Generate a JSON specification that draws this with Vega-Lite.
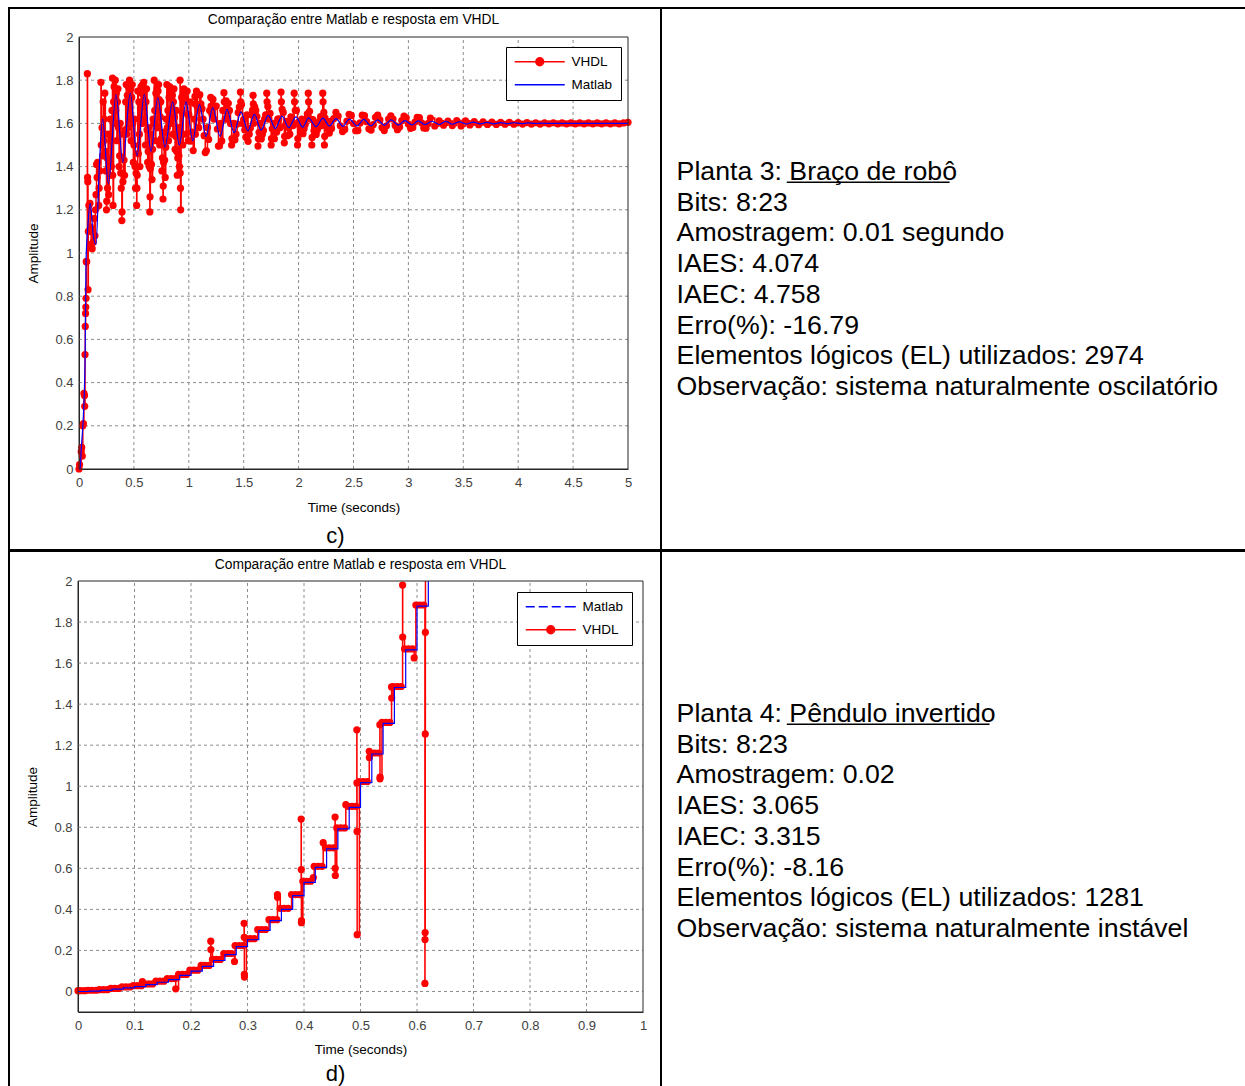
{
"$schema": "https://vega.github.io/schema/vega-lite/v6.json",
"background": "white",
"padding": {"left": 8, "top": 7, "right": 0, "bottom": 0},
"config": {"view": {"stroke": "black", "strokeWidth": 2}, "font": "Liberation Sans"},
"datasets": {
"vc": [{"t":0,"v":0},{"t":0.005,"v":0.02},{"t":0.02,"v":0.08},{"t":0.025,"v":0.1},{"t":0.03,"v":0.06},{"t":0.035,"v":0.2},{"t":0.04,"v":0.21},{"t":0.045,"v":0.35},{"t":0.05,"v":0.34},{"t":0.052,"v":0.29},{"t":0.055,"v":0.53},{"t":0.057,"v":0.66},{"t":0.06,"v":0.72},{"t":0.062,"v":0.75},{"t":0.064,"v":0.79},{"t":0.066,"v":0.96},{"t":0.07,"v":0.96},{"t":0.076,"v":1.83},{"t":0.078,"v":1.35},{"t":0.08,"v":1.33},{"t":0.082,"v":0.83},{"t":0.085,"v":1.1},{"t":0.09,"v":1.22},{"t":0.1,"v":1.23},{"t":0.105,"v":1.12},{"t":0.11,"v":1.04},{"t":0.12,"v":1.02},{"t":0.125,"v":1.1},{"t":0.13,"v":1.05},{"t":0.14,"v":1.16},{"t":0.145,"v":1.08},{"t":0.15,"v":1.2},{"t":0.155,"v":1.27},{"t":0.16,"v":1.41},{"t":0.165,"v":1.35},{"t":0.17,"v":1.42},{"t":0.18,"v":1.22},{"t":0.183,"v":1.3},{"t":0.19,"v":1.38},{"t":0.2,"v":1.79},{"t":0.203,"v":1.5},{"t":0.21,"v":1.58},{"t":0.22,"v":1.7},{"t":0.23,"v":1.62},{"t":0.24,"v":1.47},{"t":0.25,"v":1.2},{"t":0.253,"v":1.24},{"t":0.26,"v":1.3},{"t":0.27,"v":1.27},{"t":0.28,"v":1.36},{"t":0.29,"v":1.52},{"t":0.3,"v":1.66},{"t":0.305,"v":1.81},{"t":0.307,"v":1.36},{"t":0.31,"v":1.22},{"t":0.315,"v":1.7},{"t":0.32,"v":1.77},{"t":0.33,"v":1.8},{"t":0.34,"v":1.74},{"t":0.35,"v":1.7},{"t":0.36,"v":1.58},{"t":0.37,"v":1.45},{"t":0.38,"v":1.37},{"t":0.39,"v":1.15},{"t":0.392,"v":1.19},{"t":0.395,"v":1.37},{"t":0.4,"v":1.33},{"t":0.41,"v":1.43},{"t":0.42,"v":1.57},{"t":0.43,"v":1.78},{"t":0.435,"v":1.55},{"t":0.44,"v":1.73},{"t":0.45,"v":1.77},{"t":0.46,"v":1.8},{"t":0.47,"v":1.76},{"t":0.48,"v":1.72},{"t":0.49,"v":1.6},{"t":0.5,"v":1.5},{"t":0.51,"v":1.4},{"t":0.52,"v":1.37},{"t":0.525,"v":1.22},{"t":0.527,"v":1.3},{"t":0.53,"v":1.36},{"t":0.535,"v":1.75},{"t":0.54,"v":1.46},{"t":0.55,"v":1.55},{"t":0.56,"v":1.67},{"t":0.57,"v":1.74},{"t":0.58,"v":1.78},{"t":0.59,"v":1.79},{"t":0.6,"v":1.76},{"t":0.61,"v":1.7},{"t":0.62,"v":1.57},{"t":0.63,"v":1.47},{"t":0.64,"v":1.4},{"t":0.645,"v":1.19},{"t":0.647,"v":1.26},{"t":0.65,"v":1.39},{"t":0.66,"v":1.41},{"t":0.67,"v":1.48},{"t":0.68,"v":1.6},{"t":0.685,"v":1.8},{"t":0.69,"v":1.66},{"t":0.7,"v":1.74},{"t":0.71,"v":1.76},{"t":0.72,"v":1.75},{"t":0.73,"v":1.71},{"t":0.74,"v":1.63},{"t":0.75,"v":1.53},{"t":0.76,"v":1.44},{"t":0.765,"v":1.25},{"t":0.767,"v":1.31},{"t":0.77,"v":1.42},{"t":0.78,"v":1.43},{"t":0.79,"v":1.49},{"t":0.8,"v":1.78},{"t":0.805,"v":1.58},{"t":0.81,"v":1.66},{"t":0.82,"v":1.72},{"t":0.83,"v":1.74},{"t":0.84,"v":1.75},{"t":0.85,"v":1.73},{"t":0.86,"v":1.7},{"t":0.87,"v":1.63},{"t":0.88,"v":1.54},{"t":0.89,"v":1.47},{"t":0.9,"v":1.44},{"t":0.91,"v":1.45},{"t":0.92,"v":1.8},{"t":0.922,"v":1.37},{"t":0.924,"v":1.3},{"t":0.926,"v":1.2},{"t":0.93,"v":1.55},{"t":0.94,"v":1.65},{"t":0.95,"v":1.71},{"t":0.96,"v":1.74},{"t":0.965,"v":1.74},{"t":0.97,"v":1.72},{"t":0.98,"v":1.7},{"t":0.99,"v":1.64},
{"t":0.215,"v":1.45},{"t":0.225,"v":1.52},{"t":0.235,"v":1.74},{"t":0.245,"v":1.38},{"t":0.255,"v":1.44},{"t":0.265,"v":1.55},{"t":0.275,"v":1.42},{"t":0.285,"v":1.62},{"t":0.295,"v":1.4},{"t":0.325,"v":1.6},{"t":0.335,"v":1.66},{"t":0.345,"v":1.52},{"t":0.355,"v":1.76},{"t":0.365,"v":1.4},{"t":0.375,"v":1.6},{"t":0.385,"v":1.3},{"t":0.405,"v":1.55},{"t":0.415,"v":1.36},{"t":0.425,"v":1.7},{"t":0.445,"v":1.58},{"t":0.455,"v":1.66},{"t":0.465,"v":1.62},{"t":0.475,"v":1.52},{"t":0.485,"v":1.78},{"t":0.495,"v":1.42},{"t":0.505,"v":1.62},{"t":0.515,"v":1.3},{"t":0.545,"v":1.7},{"t":0.555,"v":1.4},{"t":0.565,"v":1.77},{"t":0.575,"v":1.6},{"t":0.585,"v":1.68},{"t":0.595,"v":1.62},{"t":0.605,"v":1.5},{"t":0.615,"v":1.76},{"t":0.625,"v":1.42},{"t":0.635,"v":1.58},{"t":0.655,"v":1.55},{"t":0.665,"v":1.34},{"t":0.675,"v":1.62},{"t":0.695,"v":1.52},{"t":0.705,"v":1.66},{"t":0.715,"v":1.58},{"t":0.725,"v":1.78},{"t":0.735,"v":1.5},{"t":0.745,"v":1.7},{"t":0.755,"v":1.38},{"t":0.775,"v":1.56},{"t":0.785,"v":1.35},{"t":0.795,"v":1.62},{"t":0.815,"v":1.52},{"t":0.825,"v":1.77},{"t":0.835,"v":1.6},{"t":0.845,"v":1.67},{"t":0.855,"v":1.55},{"t":0.865,"v":1.76},{"t":0.875,"v":1.48},{"t":0.885,"v":1.66},{"t":0.895,"v":1.36},{"t":0.905,"v":1.58},{"t":0.915,"v":1.4},{"t":0.935,"v":1.72},{"t":0.945,"v":1.5},{"t":0.955,"v":1.76},{"t":0.975,"v":1.55},{"t":0.985,"v":1.75},{"t":0.995,"v":1.52},
{"t":1.0,"v":1.642},{"t":1.02,"v":1.518},{"t":1.04,"v":1.474},{"t":1.056,"v":1.725},{"t":1.058,"v":1.69},{"t":1.06,"v":1.55},{"t":1.07,"v":1.75},{"t":1.08,"v":1.676},{"t":1.1,"v":1.733},{"t":1.12,"v":1.668},{"t":1.14,"v":1.543},{"t":1.15,"v":1.465},{"t":1.16,"v":1.473},{"t":1.18,"v":1.526},{"t":1.2,"v":1.72},{"t":1.203,"v":1.68},{"t":1.21,"v":1.643},{"t":1.22,"v":1.711},{"t":1.24,"v":1.678},{"t":1.26,"v":1.574},{"t":1.27,"v":1.495},{"t":1.28,"v":1.497},{"t":1.3,"v":1.519},{"t":1.32,"v":1.742},{"t":1.323,"v":1.7},{"t":1.33,"v":1.62},{"t":1.34,"v":1.704},{"t":1.36,"v":1.693},{"t":1.38,"v":1.599},{"t":1.39,"v":1.5},{"t":1.393,"v":1.53},{"t":1.4,"v":1.525},{"t":1.42,"v":1.524},{"t":1.44,"v":1.597},{"t":1.46,"v":1.676},{"t":1.47,"v":1.745},{"t":1.473,"v":1.7},{"t":1.48,"v":1.687},{"t":1.5,"v":1.619},{"t":1.52,"v":1.536},{"t":1.54,"v":1.517},{"t":1.56,"v":1.578},{"t":1.58,"v":1.662},{"t":1.585,"v":1.73},{"t":1.588,"v":1.69},{"t":1.6,"v":1.677},{"t":1.62,"v":1.632},{"t":1.63,"v":1.495},{"t":1.633,"v":1.53},{"t":1.64,"v":1.559},{"t":1.66,"v":1.528},{"t":1.68,"v":1.567},{"t":1.7,"v":1.639},{"t":1.71,"v":1.74},{"t":1.713,"v":1.7},{"t":1.72,"v":1.678},{"t":1.74,"v":1.646},{"t":1.75,"v":1.5},{"t":1.753,"v":1.53},{"t":1.76,"v":1.575},{"t":1.78,"v":1.529},{"t":1.8,"v":1.56},{"t":1.82,"v":1.621},{"t":1.84,"v":1.745},{"t":1.843,"v":1.7},{"t":1.85,"v":1.665},{"t":1.86,"v":1.651},{"t":1.87,"v":1.51},{"t":1.873,"v":1.54},{"t":1.88,"v":1.592},{"t":1.9,"v":1.543},{"t":1.92,"v":1.55},{"t":1.94,"v":1.607},{"t":1.96,"v":1.74},{"t":1.963,"v":1.7},{"t":1.97,"v":1.66},{"t":1.98,"v":1.66},{"t":1.99,"v":1.5},{"t":1.993,"v":1.53},{"t":2.0,"v":1.606},{"t":2.02,"v":1.558},{"t":2.04,"v":1.552},{"t":2.06,"v":1.595},{"t":2.08,"v":1.644},{"t":2.088,"v":1.74},{"t":2.091,"v":1.7},{"t":2.1,"v":1.656},{"t":2.12,"v":1.5},{"t":2.123,"v":1.535},{"t":2.13,"v":1.617},{"t":2.14,"v":1.566},{"t":2.16,"v":1.549},{"t":2.18,"v":1.583},{"t":2.2,"v":1.631},{"t":2.22,"v":1.74},{"t":2.223,"v":1.7},{"t":2.23,"v":1.651},{"t":2.235,"v":1.5},{"t":2.238,"v":1.54},{"t":2.24,"v":1.626},{"t":2.26,"v":1.579},{"t":2.28,"v":1.555},{"t":2.3,"v":1.576},{"t":2.32,"v":1.622},{"t":2.34,"v":1.651},{"t":2.36,"v":1.634},{"t":2.38,"v":1.589},{"t":2.4,"v":1.562},{"t":2.42,"v":1.572},{"t":2.44,"v":1.611},{"t":2.46,"v":1.642},{"t":2.48,"v":1.637},{"t":2.5,"v":1.599},{"t":2.52,"v":1.566},{"t":2.54,"v":1.567},{"t":2.56,"v":1.602},{"t":2.58,"v":1.638},{"t":2.6,"v":1.636},{"t":2.62,"v":1.608},{"t":2.64,"v":1.575},{"t":2.66,"v":1.569},{"t":2.68,"v":1.594},{"t":2.7,"v":1.628},{"t":2.72,"v":1.638},{"t":2.74,"v":1.616},{"t":2.76,"v":1.581},{"t":2.78,"v":1.567},{"t":2.8,"v":1.589},{"t":2.82,"v":1.62},{"t":2.84,"v":1.635},{"t":2.86,"v":1.62},{"t":2.88,"v":1.59},{"t":2.9,"v":1.571},{"t":2.92,"v":1.583},{"t":2.94,"v":1.613},{"t":2.96,"v":1.634},{"t":2.98,"v":1.626},{"t":3.0,"v":1.597},{"t":3.02,"v":1.577},{"t":3.04,"v":1.581},{"t":3.06,"v":1.606},{"t":3.08,"v":1.628},{"t":3.1,"v":1.627},{"t":3.12,"v":1.603},{"t":3.14,"v":1.579},{"t":3.16,"v":1.578},{"t":3.18,"v":1.6},{"t":3.2,"v":1.625},
{"t":1.01,"v":1.7},{"t":1.03,"v":1.56},{"t":1.05,"v":1.62},{"t":1.09,"v":1.58},{"t":1.11,"v":1.69},{"t":1.13,"v":1.62},{"t":1.17,"v":1.58},{"t":1.19,"v":1.66},{"t":1.23,"v":1.62},{"t":1.25,"v":1.68},{"t":1.29,"v":1.6},{"t":1.31,"v":1.66},{"t":1.35,"v":1.62},{"t":1.37,"v":1.66},{"t":1.41,"v":1.6},{"t":1.43,"v":1.55},{"t":1.45,"v":1.65},{"t":1.49,"v":1.6},{"t":1.51,"v":1.57},{"t":1.53,"v":1.64},{"t":1.55,"v":1.55},{"t":1.57,"v":1.64},{"t":1.59,"v":1.6},{"t":1.61,"v":1.66},{"t":1.65,"v":1.6},{"t":1.67,"v":1.55},{"t":1.69,"v":1.62},{"t":1.73,"v":1.62},{"t":1.77,"v":1.6},{"t":1.79,"v":1.56},{"t":1.81,"v":1.62},{"t":1.83,"v":1.58},{"t":1.89,"v":1.61},{"t":1.91,"v":1.58},{"t":1.93,"v":1.63},{"t":1.95,"v":1.59},{"t":2.01,"v":1.59},{"t":2.03,"v":1.62},{"t":2.05,"v":1.575},{"t":2.07,"v":1.62},{"t":2.11,"v":1.62},{"t":2.15,"v":1.6},{"t":2.17,"v":1.57},{"t":2.19,"v":1.61},{"t":2.21,"v":1.59},{"t":2.25,"v":1.61},{"t":2.27,"v":1.58},{"t":2.29,"v":1.61},
{"t":3.24,"v":1.588},{"t":3.28,"v":1.612},{"t":3.32,"v":1.592},{"t":3.36,"v":1.611},{"t":3.4,"v":1.59},{"t":3.44,"v":1.613},{"t":3.48,"v":1.588},{"t":3.52,"v":1.612},{"t":3.56,"v":1.593},{"t":3.6,"v":1.608},{"t":3.64,"v":1.594},{"t":3.68,"v":1.607},{"t":3.72,"v":1.595},{"t":3.76,"v":1.606},{"t":3.8,"v":1.595},{"t":3.84,"v":1.605},{"t":3.88,"v":1.596},{"t":3.92,"v":1.605},{"t":3.96,"v":1.596},{"t":4.0,"v":1.604},{"t":4.04,"v":1.597},{"t":4.08,"v":1.604},{"t":4.12,"v":1.597},{"t":4.16,"v":1.603},{"t":4.2,"v":1.597},{"t":4.24,"v":1.603},{"t":4.28,"v":1.598},{"t":4.32,"v":1.603},{"t":4.36,"v":1.598},{"t":4.4,"v":1.602},{"t":4.44,"v":1.598},{"t":4.48,"v":1.602},{"t":4.52,"v":1.598},{"t":4.56,"v":1.602},{"t":4.6,"v":1.598},{"t":4.64,"v":1.602},{"t":4.68,"v":1.598},{"t":4.72,"v":1.602},{"t":4.76,"v":1.598},{"t":4.8,"v":1.602},{"t":4.84,"v":1.598},{"t":4.88,"v":1.602},{"t":4.92,"v":1.598},{"t":4.96,"v":1.602},{"t":5.0,"v":1.605}],
"mc": [{"t":0,"v":0},{"t":0.01,"v":0},{"t":0.02,"v":0.09},{"t":0.035,"v":0.2},{"t":0.048,"v":0.35},{"t":0.056,"v":0.53},{"t":0.064,"v":0.96},{"t":0.08,"v":1.12},{"t":0.103,"v":1.23},{"t":0.13,"v":1.08},{"t":0.155,"v":1.04},{"t":0.185,"v":1.4},{"t":0.215,"v":1.62},{"t":0.268,"v":1.32},{"t":0.337,"v":1.735},{"t":0.399,"v":1.42},{"t":0.467,"v":1.74},{"t":0.528,"v":1.45},{"t":0.595,"v":1.735},{"t":0.656,"v":1.47},{"t":0.717,"v":1.72},{"t":0.783,"v":1.49},{"t":0.853,"v":1.7},{"t":0.914,"v":1.5},{"t":0.975,"v":1.7},{"t":1.036,"v":1.52},{"t":1.096,"v":1.688},{"t":1.157,"v":1.54},{"t":1.218,"v":1.673},{"t":1.285,"v":1.54},{"t":1.348,"v":1.665},{"t":1.413,"v":1.557},{"t":1.475,"v":1.653},{"t":1.537,"v":1.565},{"t":1.597,"v":1.642},{"t":1.658,"v":1.569},{"t":1.724,"v":1.637},{"t":1.788,"v":1.576},{"t":1.849,"v":1.634},{"t":1.91,"v":1.58},{"t":1.976,"v":1.63},{"t":2.037,"v":1.582},{"t":2.091,"v":1.626},{"t":2.158,"v":1.585},{"t":2.221,"v":1.624},{"t":2.281,"v":1.588},{"t":2.341,"v":1.622},{"t":2.403,"v":1.586},{"t":2.462,"v":1.62},{"t":2.533,"v":1.588},{"t":2.593,"v":1.619},{"t":2.66,"v":1.589},{"t":2.72,"v":1.616},{"t":2.781,"v":1.591},{"t":2.842,"v":1.616},{"t":2.909,"v":1.592},{"t":2.969,"v":1.613},{"t":3.033,"v":1.593},{"t":3.09,"v":1.612},{"t":3.15,"v":1.594},{"t":3.215,"v":1.61},{"t":3.28,"v":1.595},{"t":3.34,"v":1.609},{"t":3.4,"v":1.596},{"t":3.465,"v":1.607},{"t":3.53,"v":1.597},{"t":3.59,"v":1.606},{"t":3.655,"v":1.598},{"t":3.715,"v":1.605},{"t":3.78,"v":1.598},{"t":3.84,"v":1.604},{"t":3.905,"v":1.599},{"t":3.965,"v":1.603},{"t":4.03,"v":1.599},{"t":4.09,"v":1.602},{"t":4.155,"v":1.6},{"t":4.215,"v":1.601},{"t":4.28,"v":1.6},{"t":5,"v":1.6}],
"vd": [{"t":0,"v":0.004},{"t":0.005,"v":0.004},{"t":0.012,"v":0.004},{"t":0.018,"v":0.006},{"t":0.025,"v":0.006},{"t":0.032,"v":0.006},{"t":0.038,"v":0.009},{"t":0.045,"v":0.009},{"t":0.052,"v":0.009},{"t":0.058,"v":0.015},{"t":0.065,"v":0.015},{"t":0.072,"v":0.015},{"t":0.078,"v":0.022},{"t":0.085,"v":0.022},{"t":0.092,"v":0.022},{"t":0.098,"v":0.028},{"t":0.105,"v":0.028},{"t":0.112,"v":0.028},{"t":0.114,"v":0.048},{"t":0.118,"v":0.037},{"t":0.125,"v":0.037},{"t":0.132,"v":0.037},{"t":0.138,"v":0.05},{"t":0.145,"v":0.05},{"t":0.152,"v":0.05},{"t":0.158,"v":0.063},{"t":0.165,"v":0.063},{"t":0.172,"v":0.063},{"t":0.173,"v":0.013},{"t":0.178,"v":0.083},{"t":0.185,"v":0.083},{"t":0.192,"v":0.083},{"t":0.198,"v":0.104},{"t":0.205,"v":0.104},{"t":0.212,"v":0.104},{"t":0.218,"v":0.127},{"t":0.225,"v":0.127},{"t":0.232,"v":0.127},{"t":0.235,"v":0.245},{"t":0.2352,"v":0.204},{"t":0.238,"v":0.156},{"t":0.245,"v":0.156},{"t":0.252,"v":0.156},{"t":0.258,"v":0.185},{"t":0.265,"v":0.185},{"t":0.272,"v":0.185},{"t":0.277,"v":0.146},{"t":0.278,"v":0.224},{"t":0.285,"v":0.224},{"t":0.292,"v":0.224},{"t":0.294,"v":0.332},{"t":0.2942,"v":0.264},{"t":0.2944,"v":0.083},{"t":0.2946,"v":0.07},{"t":0.298,"v":0.257},{"t":0.305,"v":0.257},{"t":0.312,"v":0.257},{"t":0.318,"v":0.302},{"t":0.325,"v":0.302},{"t":0.332,"v":0.302},{"t":0.338,"v":0.35},{"t":0.345,"v":0.35},{"t":0.352,"v":0.35},{"t":0.353,"v":0.472},{"t":0.3532,"v":0.459},{"t":0.358,"v":0.405},{"t":0.365,"v":0.405},{"t":0.372,"v":0.405},{"t":0.378,"v":0.472},{"t":0.385,"v":0.472},{"t":0.392,"v":0.472},{"t":0.395,"v":0.84},{"t":0.3952,"v":0.594},{"t":0.3954,"v":0.335},{"t":0.3956,"v":0.345},{"t":0.398,"v":0.537},{"t":0.405,"v":0.537},{"t":0.412,"v":0.537},{"t":0.4165,"v":0.555},{"t":0.418,"v":0.61},{"t":0.425,"v":0.61},{"t":0.432,"v":0.61},{"t":0.434,"v":0.725},{"t":0.438,"v":0.7},{"t":0.445,"v":0.7},{"t":0.452,"v":0.7},{"t":0.455,"v":0.85},{"t":0.4552,"v":0.6},{"t":0.4554,"v":0.565},{"t":0.458,"v":0.797},{"t":0.465,"v":0.797},{"t":0.472,"v":0.797},{"t":0.474,"v":0.91},{"t":0.478,"v":0.902},{"t":0.485,"v":0.902},{"t":0.492,"v":0.902},{"t":0.4935,"v":1.275},{"t":0.4937,"v":1.017},{"t":0.4939,"v":0.78},{"t":0.4941,"v":0.277},{"t":0.498,"v":1.023},{"t":0.505,"v":1.023},{"t":0.512,"v":1.023},{"t":0.5155,"v":1.17},{"t":0.5157,"v":1.14},{"t":0.518,"v":1.162},{"t":0.525,"v":1.162},{"t":0.532,"v":1.162},{"t":0.5343,"v":1.3},{"t":0.5345,"v":1.036},{"t":0.5347,"v":1.045},{"t":0.538,"v":1.311},{"t":0.545,"v":1.311},{"t":0.552,"v":1.311},{"t":0.555,"v":1.484},{"t":0.5552,"v":1.43},{"t":0.558,"v":1.486},{"t":0.565,"v":1.486},{"t":0.572,"v":1.486},{"t":0.5745,"v":1.98},{"t":0.5747,"v":1.727},{"t":0.578,"v":1.669},{"t":0.585,"v":1.669},{"t":0.592,"v":1.669},{"t":0.595,"v":1.625},{"t":0.598,"v":1.883},{"t":0.605,"v":1.883},{"t":0.612,"v":1.883},{"t":0.614,"v":0.039},{"t":0.6142,"v":0.253},{"t":0.6144,"v":0.287},{"t":0.6146,"v":1.255},{"t":0.6148,"v":1.75},{"t":0.615,"v":2.4}],
"md": [{"t":0,"v":0},{"t":0.02,"v":0.002},{"t":0.04,"v":0.005},{"t":0.06,"v":0.011},{"t":0.08,"v":0.018},{"t":0.1,"v":0.024},{"t":0.12,"v":0.033},{"t":0.14,"v":0.045},{"t":0.16,"v":0.058},{"t":0.18,"v":0.078},{"t":0.2,"v":0.099},{"t":0.22,"v":0.122},{"t":0.24,"v":0.151},{"t":0.26,"v":0.18},{"t":0.28,"v":0.219},{"t":0.3,"v":0.252},{"t":0.32,"v":0.297},{"t":0.34,"v":0.345},{"t":0.36,"v":0.4},{"t":0.38,"v":0.467},{"t":0.4,"v":0.532},{"t":0.42,"v":0.605},{"t":0.44,"v":0.695},{"t":0.46,"v":0.792},{"t":0.48,"v":0.897},{"t":0.5,"v":1.018},{"t":0.52,"v":1.157},{"t":0.54,"v":1.306},{"t":0.56,"v":1.481},{"t":0.58,"v":1.664},{"t":0.6,"v":1.878},{"t":0.62,"v":2.1}],
"gxc": [{"g":0.5},{"g":1},{"g":1.5},{"g":2},{"g":2.5},{"g":3},{"g":3.5},{"g":4},{"g":4.5}],
"gyc": [{"g":0.2},{"g":0.4},{"g":0.6},{"g":0.8},{"g":1},{"g":1.2},{"g":1.4},{"g":1.6},{"g":1.8}],
"gxd": [{"g":0.1},{"g":0.2},{"g":0.3},{"g":0.4},{"g":0.5},{"g":0.6},{"g":0.7},{"g":0.8},{"g":0.9}],
"gyd": [{"g":0},{"g":0.2},{"g":0.4},{"g":0.6},{"g":0.8},{"g":1},{"g":1.2},{"g":1.4},{"g":1.6},{"g":1.8}],
"lc": [{"s":"VHDL"},{"s":"Matlab"}],
"ld": [{"s":"Matlab"},{"s":"VHDL"}],
"tc": [{"i":0,"txt":"Planta 3: Braço de robô"},{"i":1,"txt":"Bits: 8:23"},{"i":2,"txt":"Amostragem: 0.01 segundo"},{"i":3,"txt":"IAES: 4.074"},{"i":4,"txt":"IAEC: 4.758"},{"i":5,"txt":"Erro(%): -16.79"},{"i":6,"txt":"Elementos lógicos (EL) utilizados: 2974"},{"i":7,"txt":"Observação: sistema naturalmente oscilatório"}],
"td": [{"i":0,"txt":"Planta 4: Pêndulo invertido"},{"i":1,"txt":"Bits: 8:23"},{"i":2,"txt":"Amostragem: 0.02"},{"i":3,"txt":"IAES: 3.065"},{"i":4,"txt":"IAEC: 3.315"},{"i":5,"txt":"Erro(%): -8.16"},{"i":6,"txt":"Elementos lógicos (EL) utilizados: 1281"},{"i":7,"txt":"Observação: sistema naturalmente instável"}]
},
"spacing": -3,
"resolve": {"scale": {"color": "independent", "shape": "independent"}, "legend": {"color": "independent", "shape": "independent"}},
"vconcat": [
{"spacing": 0, "bounds": "flush", "hconcat": [
{
"width": 652, "height": 542,
"resolve": {"axis": {"x": "independent", "y": "independent"}},
"layer": [
{"data": {"name": "gxc"}, "mark": {"type": "rule", "color": "#8c8c8c", "strokeDash": [3,3], "strokeWidth": 1},
 "encoding": {"x": {"field": "g", "type": "quantitative", "axis": null, "scale": {"domain": [0, 5], "range": [70, 619], "nice": false, "zero": false}}, "y": {"datum": 0, "type": "quantitative", "axis": null, "scale": {"domain": [0, 2], "range": [461, 29], "nice": false, "zero": false}}, "y2": {"datum": 2}}},
{"data": {"name": "gyc"}, "mark": {"type": "rule", "color": "#8c8c8c", "strokeDash": [3,3], "strokeWidth": 1},
 "encoding": {"y": {"field": "g", "type": "quantitative", "axis": null}, "x": {"datum": 0, "type": "quantitative", "axis": null}, "x2": {"datum": 5}}},
{"data": {"name": "vc"}, "mark": {"type": "line", "interpolate": "step-after", "color": "#ff0000", "strokeWidth": 1.5},
 "encoding": {
  "x": {"field": "t", "type": "quantitative",
   "axis": {"orient": "bottom", "offset": -81, "title": "Time (seconds)", "values": [0,0.5,1,1.5,2,2.5,3,3.5,4,4.5,5], "format": "~g", "labelFontSize": 13, "labelColor": "#404040", "labelPadding": 7, "labelFlush": false, "ticks": false, "tickSize": 0, "domainColor": "#262626", "grid": false, "titleFontSize": 13.5, "titleFontWeight": "normal", "titleColor": "black", "titlePadding": 11}},
  "y": {"field": "v", "type": "quantitative",
   "axis": {"orient": "left", "offset": -70, "title": "Amplitude", "values": [0,0.2,0.4,0.6,0.8,1,1.2,1.4,1.6,1.8,2], "format": "~g", "labelFontSize": 13, "labelColor": "#404040", "labelPadding": 6, "labelFlush": false, "ticks": false, "tickSize": 0, "domainColor": "#262626", "grid": false, "titleFontSize": 13.5, "titleFontWeight": "normal", "titleColor": "black", "titlePadding": 14}}
 }},
{"data": {"name": "vc"}, "mark": {"type": "point", "filled": true, "color": "#ff0000", "size": 52, "opacity": 1},
 "encoding": {"x": {"field": "t", "type": "quantitative", "axis": null}, "y": {"field": "v", "type": "quantitative", "axis": null}}},
{"data": {"name": "mc"}, "mark": {"type": "line", "interpolate": "monotone", "color": "#0000ff", "strokeWidth": 1.2},
 "encoding": {"x": {"field": "t", "type": "quantitative", "axis": null}, "y": {"field": "v", "type": "quantitative", "axis": null}}},
{"data": {"values": [{}]}, "mark": {"type": "rect", "filled": false, "color": "#262626", "strokeWidth": 1},
 "encoding": {
  "x": {"datum": 0, "type": "quantitative", "axis": {"orient": "bottom", "offset": -81, "title": "c)", "titleFontSize": 22, "titleFontWeight": "normal", "titleColor": "black", "labels": false, "ticks": false, "domain": false, "grid": false, "titleX": 326, "titleY": 66, "titleBaseline": "middle", "titleAlign": "center"}},
  "x2": {"datum": 5},
  "y": {"datum": 0, "type": "quantitative", "axis": null},
  "y2": {"datum": 2}
 }},
{"data": {"name": "lc"}, "mark": {"type": "point", "filled": false, "opacity": 1, "strokeWidth": 0},
 "encoding": {
  "x": {"datum": 0, "type": "quantitative", "axis": {"orient": "top", "offset": -29, "title": "Comparação entre Matlab e resposta em VHDL", "titleFontSize": 13.8, "titleFontWeight": "normal", "titleColor": "black", "labels": false, "ticks": false, "domain": false, "grid": false, "titleX": 344, "titleY": -14, "titleBaseline": "alphabetic", "titleAlign": "center"}},
  "color": {"field": "s", "type": "nominal", "scale": {"domain": ["VHDL", "Matlab"], "range": ["#ff0000", "#0000ff"]},
   "legend": {"orient": "none", "legendX": 497, "legendY": 39, "title": null, "strokeColor": "black", "fillColor": "white", "padding": 8, "symbolSize": 100, "symbolStrokeWidth": 1.3, "symbolOpacity": 1, "labelFontSize": 13.5, "labelColor": "black", "labelFont": "Liberation Sans", "rowPadding": 8, "labelOffset": 44}},
  "shape": {"field": "s", "type": "nominal", "scale": {"domain": ["VHDL", "Matlab"], "range": ["M-1.2,0H8.8M4.6,0A0.8,0.8,0,1,1,3,0A0.8,0.8,0,1,1,4.6,0M4.35,0A0.55,0.55,0,1,1,3.25,0A0.55,0.55,0,1,1,4.35,0M4.1,0A0.3,0.3,0,1,1,3.5,0A0.3,0.3,0,1,1,4.1,0M3.9,0A0.1,0.1,0,1,1,3.7,0A0.1,0.1,0,1,1,3.9,0", "M-1.2,0H8.8"]},
   "legend": {"orient": "none", "legendX": 497, "legendY": 39, "title": null, "strokeColor": "black", "fillColor": "white", "padding": 8, "symbolSize": 100, "symbolStrokeWidth": 1.3, "symbolOpacity": 1, "labelFontSize": 13.5, "labelColor": "black", "labelFont": "Liberation Sans", "rowPadding": 8, "labelOffset": 44}}
 }}
]
},
{
"width": 585, "height": 542,
"data": {"name": "tc"},
"layer": [
{"mark": {"type": "text", "align": "left", "baseline": "alphabetic", "fontSize": 26.7, "font": "Liberation Sans", "color": "black"},
 "encoding": {
  "x": {"datum": 16, "type": "quantitative", "scale": {"domain": [0, 585], "range": [0, 585]}, "axis": null},
  "y": {"field": "i", "type": "quantitative", "scale": {"domain": [0, 7], "range": [172, 387]}, "axis": null},
  "text": {"field": "txt"}}},
{"data": {"values": [{}]}, "mark": {"type": "rule", "color": "black", "strokeWidth": 1.5},
 "encoding": {"x": {"datum": 129, "type": "quantitative"}, "x2": {"datum": 296}, "y": {"datum": 0.07, "type": "quantitative"}}}
]
}
]},
{"spacing": 0, "bounds": "flush", "hconcat": [
{
"width": 652, "height": 542,
"resolve": {"axis": {"x": "independent", "y": "independent"}},
"layer": [
{"data": {"name": "gxd"}, "mark": {"type": "rule", "color": "#8c8c8c", "strokeDash": [3,3], "strokeWidth": 1},
 "encoding": {"x": {"field": "g", "type": "quantitative", "axis": null, "scale": {"domain": [0, 1], "range": [69, 634], "nice": false, "zero": false}}, "y": {"datum": -0.1, "type": "quantitative", "axis": null, "scale": {"domain": [-0.1, 2], "range": [461, 30], "nice": false, "zero": false, "clamp": true}}, "y2": {"datum": 2}}},
{"data": {"name": "gyd"}, "mark": {"type": "rule", "color": "#8c8c8c", "strokeDash": [3,3], "strokeWidth": 1},
 "encoding": {"y": {"field": "g", "type": "quantitative", "axis": null}, "x": {"datum": 0, "type": "quantitative", "axis": null}, "x2": {"datum": 1}}},
{"data": {"name": "vd"}, "mark": {"type": "line", "interpolate": "step-after", "color": "#ff0000", "strokeWidth": 1.5},
 "encoding": {
  "x": {"field": "t", "type": "quantitative",
   "axis": {"orient": "bottom", "offset": -81, "title": "Time (seconds)", "values": [0,0.1,0.2,0.3,0.4,0.5,0.6,0.7,0.8,0.9,1], "format": "~g", "labelFontSize": 13, "labelColor": "#404040", "labelPadding": 7, "labelFlush": false, "ticks": false, "tickSize": 0, "domainColor": "#262626", "grid": false, "titleFontSize": 13.5, "titleFontWeight": "normal", "titleColor": "black", "titlePadding": 10}},
  "y": {"field": "v", "type": "quantitative",
   "axis": {"orient": "left", "offset": -69, "title": "Amplitude", "values": [0,0.2,0.4,0.6,0.8,1,1.2,1.4,1.6,1.8,2], "format": "~g", "labelFontSize": 13, "labelColor": "#404040", "labelPadding": 6, "labelFlush": false, "ticks": false, "tickSize": 0, "domainColor": "#262626", "grid": false, "titleFontSize": 13.5, "titleFontWeight": "normal", "titleColor": "black", "titlePadding": 14}}
 }},
{"data": {"name": "vd"}, "transform": [{"filter": "datum.v <= 2"}], "mark": {"type": "point", "filled": true, "color": "#ff0000", "size": 52, "opacity": 1},
 "encoding": {"x": {"field": "t", "type": "quantitative", "axis": null}, "y": {"field": "v", "type": "quantitative", "axis": null}}},
{"data": {"name": "md"}, "mark": {"type": "line", "interpolate": "step-after", "color": "#0000ff", "strokeWidth": 1.2},
 "encoding": {"x": {"field": "t", "type": "quantitative", "axis": null}, "y": {"field": "v", "type": "quantitative", "axis": null}}},
{"data": {"values": [{}]}, "mark": {"type": "rect", "filled": false, "color": "#262626", "strokeWidth": 1},
 "encoding": {
  "x": {"datum": 0, "type": "quantitative", "axis": {"orient": "bottom", "offset": -81, "title": "d)", "titleFontSize": 22, "titleFontWeight": "normal", "titleColor": "black", "labels": false, "ticks": false, "domain": false, "grid": false, "titleX": 326, "titleY": 61, "titleBaseline": "middle", "titleAlign": "center"}},
  "x2": {"datum": 1},
  "y": {"datum": -0.1, "type": "quantitative", "axis": null},
  "y2": {"datum": 2}
 }},
{"data": {"name": "ld"}, "mark": {"type": "point", "filled": false, "opacity": 1, "strokeWidth": 0},
 "encoding": {
  "x": {"datum": 0, "type": "quantitative", "axis": {"orient": "top", "offset": -30, "title": "Comparação entre Matlab e resposta em VHDL", "titleFontSize": 13.8, "titleFontWeight": "normal", "titleColor": "black", "labels": false, "ticks": false, "domain": false, "grid": false, "titleX": 351, "titleY": -13, "titleBaseline": "alphabetic", "titleAlign": "center"}},
  "color": {"field": "s", "type": "nominal", "scale": {"domain": ["Matlab", "VHDL"], "range": ["#0000ff", "#ff0000"]},
   "legend": {"orient": "none", "legendX": 508, "legendY": 41, "title": null, "strokeColor": "black", "fillColor": "white", "padding": 8, "symbolSize": 100, "symbolStrokeWidth": 1.3, "symbolOpacity": 1, "labelFontSize": 13.5, "labelColor": "black", "labelFont": "Liberation Sans", "rowPadding": 8, "labelOffset": 44}},
  "shape": {"field": "s", "type": "nominal", "scale": {"domain": ["Matlab", "VHDL"], "range": ["M-1.2,0H0.6M1.4,0H3.2M4,0H5.8M6.6,0H8.8", "M-1.2,0H8.8M4.6,0A0.8,0.8,0,1,1,3,0A0.8,0.8,0,1,1,4.6,0M4.35,0A0.55,0.55,0,1,1,3.25,0A0.55,0.55,0,1,1,4.35,0M4.1,0A0.3,0.3,0,1,1,3.5,0A0.3,0.3,0,1,1,4.1,0M3.9,0A0.1,0.1,0,1,1,3.7,0A0.1,0.1,0,1,1,3.9,0"]},
   "legend": {"orient": "none", "legendX": 508, "legendY": 41, "title": null, "strokeColor": "black", "fillColor": "white", "padding": 8, "symbolSize": 100, "symbolStrokeWidth": 1.3, "symbolOpacity": 1, "labelFontSize": 13.5, "labelColor": "black", "labelFont": "Liberation Sans", "rowPadding": 8, "labelOffset": 44}}
 }}
]
},
{
"width": 585, "height": 542,
"data": {"name": "td"},
"layer": [
{"mark": {"type": "text", "align": "left", "baseline": "alphabetic", "fontSize": 26.7, "font": "Liberation Sans", "color": "black"},
 "encoding": {
  "x": {"datum": 16, "type": "quantitative", "scale": {"domain": [0, 585], "range": [0, 585]}, "axis": null},
  "y": {"field": "i", "type": "quantitative", "scale": {"domain": [0, 7], "range": [171, 386]}, "axis": null},
  "text": {"field": "txt"}}},
{"data": {"values": [{}]}, "mark": {"type": "rule", "color": "black", "strokeWidth": 1.5},
 "encoding": {"x": {"datum": 129, "type": "quantitative"}, "x2": {"datum": 337}, "y": {"datum": 0.07, "type": "quantitative"}}}
]
}
]}
]
}
